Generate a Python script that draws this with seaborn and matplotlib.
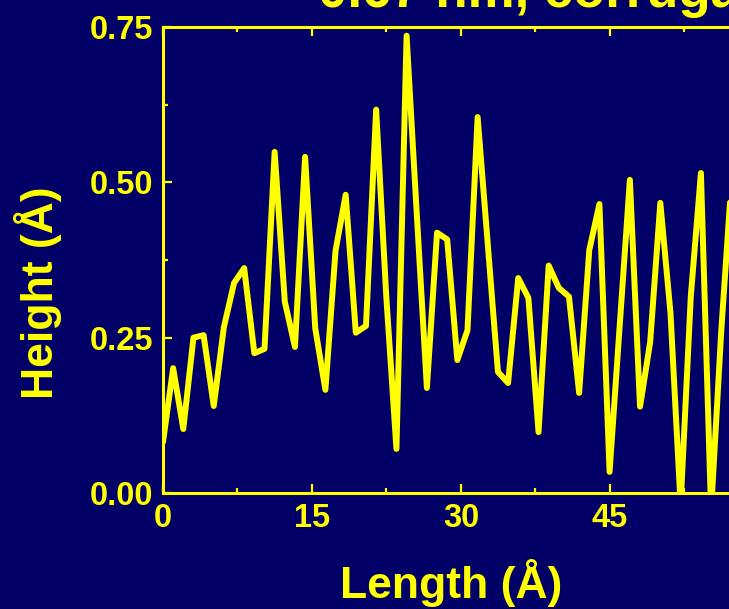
import numpy as np
import pandas as pd
import matplotlib
matplotlib.use("Agg")
import matplotlib.pyplot as plt
import seaborn as sns
from matplotlib.ticker import MultipleLocator

# профиль высоты вдоль линии сканирования
step = 1.022  # шаг по длине, Å
height = [0.082, 0.201, 0.103, 0.250, 0.254, 0.140, 0.267, 0.338, 0.362, 0.225,
          0.232, 0.549, 0.308, 0.235, 0.541, 0.265, 0.166, 0.390, 0.480, 0.258,
          0.269, 0.617, 0.316, 0.071, 0.736, 0.450, 0.169, 0.419, 0.408, 0.214,
          0.262, 0.605, 0.400, 0.195, 0.177, 0.346, 0.314, 0.098, 0.366, 0.330,
          0.316, 0.161, 0.391, 0.465, 0.034, 0.270, 0.504, 0.139, 0.243, 0.467,
          0.290, -0.020, 0.316, 0.515, -0.030, 0.260, 0.500]
length = np.arange(len(height)) * step
x_ticks = [0, 15, 30, 45]
y_ticks = [0.00, 0.25, 0.50, 0.75]
title = "0.67 nm, corrugation"

df = pd.DataFrame({"length": length, "height": height})

bg = "#000066"
fg = "#ffff00"

sns.set_theme(style="ticks")
plt.rcParams["font.family"] = ["Liberation Sans", "DejaVu Sans"]
plt.rcParams["font.weight"] = "bold"

fig = plt.figure(figsize=(7.29, 6.09), dpi=100, facecolor=bg)
ax = fig.add_axes([163 / 729, 116 / 609, (739 - 163) / 729, (493 - 27) / 609])
ax.set_facecolor(bg)

sns.lineplot(data=df, x="length", y="height", ax=ax, color=fg, linewidth=4.3,
             solid_joinstyle="round", solid_capstyle="round")

ax.set_xlim(0, 58)
ax.set_ylim(0, 0.75)
ax.set_xticks(x_ticks)
ax.set_yticks(y_ticks)
ax.set_yticklabels([f"{v:.2f}" for v in y_ticks])
ax.xaxis.set_minor_locator(MultipleLocator(7.5))
ax.yaxis.set_minor_locator(MultipleLocator(0.125))

for s in ax.spines.values():
    s.set_color(fg)
    s.set_linewidth(2.2)
ax.tick_params(which="both", direction="in", colors=fg, top=True, right=True,
               width=1.6, labelsize=23.5)
ax.tick_params(which="major", length=6.5, pad=7)
ax.tick_params(which="minor", length=3.5)
for lab in ax.get_xticklabels() + ax.get_yticklabels():
    lab.set_fontweight("bold")
    lab.set_color(fg)

ax.set_xlabel("Length (Å)", fontsize=32, fontweight="bold", color=fg, labelpad=18)
ax.set_ylabel("Height (Å)", fontsize=32, fontweight="bold", color=fg, labelpad=14)
ax.yaxis.set_label_coords(-0.175, 0.43)

fig.text(318 / 729, 1 - 7 / 609, title, fontsize=38, fontweight="bold",
         color=fg, ha="left", va="baseline")

fig.savefig("out.png", dpi=100, facecolor=bg)
